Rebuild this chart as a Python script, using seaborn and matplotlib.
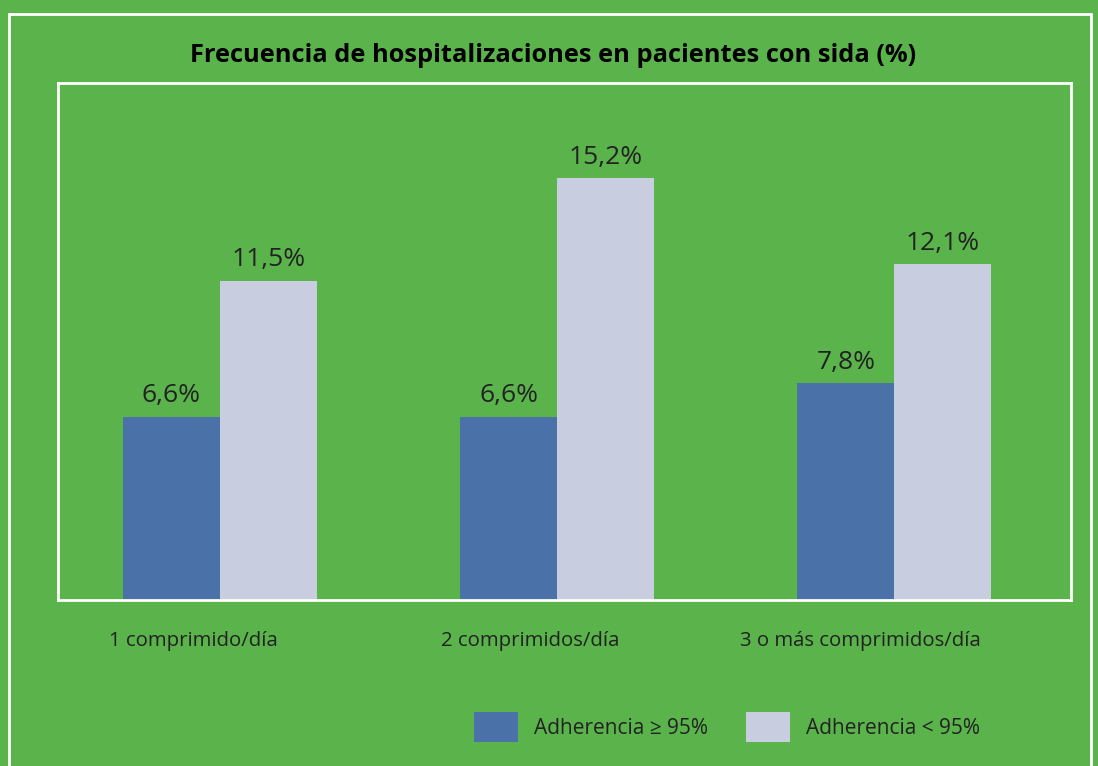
import pandas as pd
import seaborn as sns
import matplotlib.pyplot as plt
from matplotlib.patches import Rectangle

# Data
categorias = ['1 comprimido/día', '2 comprimidos/día', '3 o más comprimidos/día']
series = ['Adherencia ≥ 95%', 'Adherencia < 95%']
adh_alta = [6.6, 6.6, 7.8]
adh_baja = [11.5, 15.2, 12.1]

df = pd.DataFrame({
    'Categoria': categorias * 2,
    'Serie': [series[0]] * 3 + [series[1]] * 3,
    'Valor': adh_alta + adh_baja,
})

verde = '#5bb34b'
colores = ['#4a72a8', '#c9cde0']
texto = '#222222'

sns.set_style('white')
plt.rcParams['font.family'] = ['Open Sans', 'DejaVu Sans']

fig = plt.figure(figsize=(10.98, 7.66), dpi=100, facecolor=verde)

# outer white frame
fig.patches.append(Rectangle((9 / 1098, -0.1), (1091 - 9) / 1098, 1.1 - 14 / 766,
                             transform=fig.transFigure, fill=False,
                             edgecolor='white', linewidth=2))

ax = fig.add_axes([58 / 1098, 1 - 600 / 766, 1013 / 1098, 517 / 766])
ax.set_facecolor(verde)

sns.barplot(data=df, x='Categoria', y='Valor', hue='Serie', palette=colores,
            width=0.575, gap=0, saturation=1, linewidth=0, ax=ax, legend=False)

for cont, vals in zip(ax.containers, [adh_alta, adh_baja]):
    ax.bar_label(cont, labels=[f'{v:.1f}%'.replace('.', ',') for v in vals],
                 padding=6, fontsize=19, color=texto)

ax.set_xlim(-0.48, 2.524)
ax.set_ylim(0, 18.62)
ax.set_yticks([])
# labels sit a little left of the bar groups, as in the original
ax.set_xticks([-0.08, 0.92, 1.9])
ax.set_xticklabels(categorias, fontsize=14.7, color=texto)
ax.tick_params(axis='x', length=0, pad=22)
ax.set_xlabel('')
ax.set_ylabel('')
for s in ax.spines.values():
    s.set_visible(True)
    s.set_color('white')
    s.set_linewidth(2)

fig.text(553 / 1098, 1 - 55 / 766, 'Frecuencia de hospitalizaciones en pacientes con sida (%)',
         ha='center', va='center', fontsize=18.3, fontweight='bold', color='black')

handles = [Rectangle((0, 0), 1, 1, facecolor=c, edgecolor='none') for c in colores]
fig.legend(handles, series, loc='center', bbox_to_anchor=(727 / 1098, 1 - 727 / 766),
           ncol=2, frameon=False, fontsize=15, handlelength=2.1, handleheight=1.8,
           columnspacing=1.8, handletextpad=0.77, labelcolor=texto)

fig.savefig('out.png', dpi=100, facecolor=verde)
